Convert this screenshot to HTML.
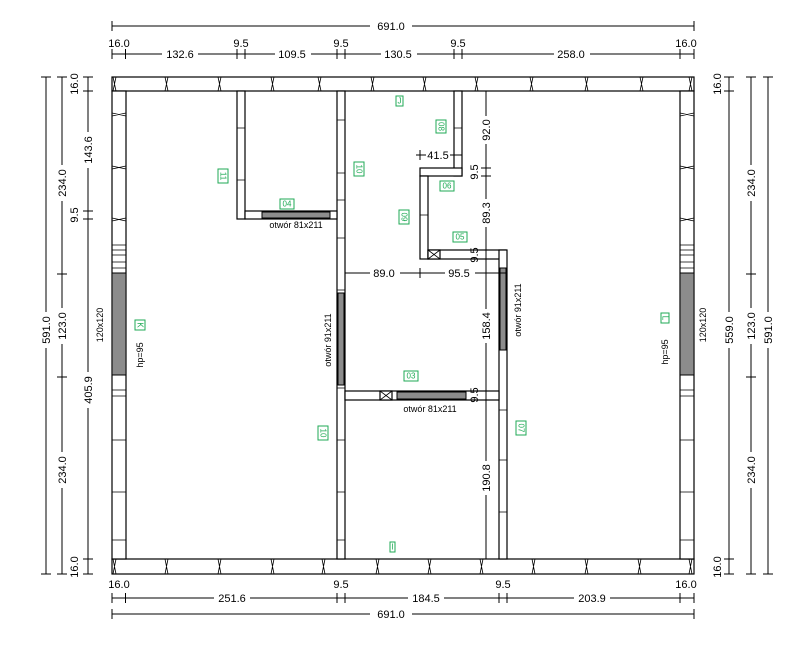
<!DOCTYPE html>
<html><head><meta charset="utf-8"><style>
html,body{margin:0;padding:0;background:#fff;}
svg{display:block;font-family:"Liberation Sans",sans-serif;}
.w{fill:#fff;stroke:#000;stroke-width:1.2;}
.g{fill:#8c8c8c;stroke:#000;stroke-width:1;}
.d{stroke:#000;stroke-width:1;fill:none;}
.t{font-size:11px;fill:#000;}
.s{font-size:9px;fill:#000;}
.lb{fill:#fff;stroke:#1faa55;stroke-width:1;}
.lt{font-size:8px;fill:#1faa55;text-anchor:middle;dominant-baseline:central;}
.m{stroke:#000;stroke-width:0.8;fill:none;}
</style></head><body>
<svg width="807" height="659" viewBox="0 0 807 659" xmlns="http://www.w3.org/2000/svg">
<rect class="w" x="112" y="77" width="582" height="14"/>
<rect class="w" x="112" y="559" width="582" height="15"/>
<rect class="w" x="112" y="91" width="14" height="468"/>
<rect class="w" x="680" y="91" width="14" height="468"/>
<rect class="g" x="112" y="273" width="14" height="102"/>
<rect class="g" x="680" y="273" width="14" height="102"/>
<rect class="w" x="337" y="91" width="8" height="468"/>
<rect class="w" x="237" y="91" width="8" height="128"/>
<rect class="w" x="245" y="211" width="92" height="8"/>
<rect class="g" x="262" y="212" width="68" height="6"/>
<rect class="w" x="454" y="91" width="8" height="85"/>
<rect class="w" x="420" y="168" width="42" height="8"/>
<rect class="w" x="420" y="176" width="8" height="83"/>
<rect class="w" x="428" y="250" width="78" height="9"/>
<rect class="w" x="428" y="250" width="12" height="9"/>
<path class="m" d="M428 250L440 259M440 250L428 259"/>
<rect class="w" x="499" y="250" width="8" height="309"/>
<rect class="g" x="500" y="268" width="6" height="82"/>
<rect class="g" x="338" y="293" width="6" height="92"/>
<rect class="w" x="345" y="391" width="154" height="9"/>
<rect class="w" x="380" y="391" width="12" height="9"/>
<path class="m" d="M380 391L392 400M392 391L380 400"/>
<rect class="g" x="397" y="392" width="69" height="7"/>
<g class="m">
<path d="M165 77l3 14m0-14l-3 14M218 77l3 14m0-14l-3 14M271 77l3 14m0-14l-3 14M318 77l3 14m0-14l-3 14M371 77l3 14m0-14l-3 14M423 77l3 14m0-14l-3 14M475 77l3 14m0-14l-3 14M530 77l3 14m0-14l-3 14M585 77l3 14m0-14l-3 14M640 77l3 14m0-14l-3 14M113 77l3 14m0-14l-3 14M689 77l3 14m0-14l-3 14"/>
<path d="M165 559l3 15m0-15l-3 15M218 559l3 15m0-15l-3 15M271 559l3 15m0-15l-3 15M322 559l3 15m0-15l-3 15M376 559l3 15m0-15l-3 15M428 559l3 15m0-15l-3 15M480 559l3 15m0-15l-3 15M532 559l3 15m0-15l-3 15M585 559l3 15m0-15l-3 15M638 559l3 15m0-15l-3 15M113 559l3 15m0-15l-3 15M689 559l3 15m0-15l-3 15"/>
<path d="M112 113l14 3m-14 0l14-3M112 166l14 3m-14 0l14-3M112 218l14 3m-14 0l14-3M112 245h14M112 250h14M112 255h14M112 262h14M112 268h14M112 390h14M112 396h14M112 440h14M112 492h14M112 540h14"/>
<path d="M680 113l14 3m-14 0l14-3M680 166l14 3m-14 0l14-3M680 218l14 3m-14 0l14-3M680 245h14M680 250h14M680 255h14M680 262h14M680 268h14M680 390h14M680 396h14M680 440h14M680 492h14M680 540h14"/>
<path d="M337 120h8M337 173h8M337 200h8M337 238h8M337 290h8M337 388h8M337 440h8M337 492h8M337 540h8M237 128h8M237 180h8M499 268h8M499 350h8M499 410h8M499 460h8M499 512h8M454 128h8M420 215h8"/>
</g>
<g class="d">
<path d="M112 26H694M112 54H694"/>
<path d="M112 21v10M694 21v10M112 49v10M125.5 49v10M237 49v10M245 49v10M337 49v10M345 49v10M454 49v10M462 49v10M680 49v10M694 49v10"/>
<path d="M112 598H694M112 614H694"/>
<path d="M112 593v10M125.5 593v10M337 593v10M345 593v10M499 593v10M507 593v10M680 593v10M694 593v10M112 609v10M694 609v10"/>
<path d="M46 77V574M62 77V574M88 77V574"/>
<path d="M41 77h10M41 574h10M57 77h10M57 274h10M57 377h10M57 574h10M83 77h10M83 91h10M83 211h10M83 219h10M83 559h10M83 574h10"/>
<path d="M729 77V574M751 77V574M768 77V574"/>
<path d="M724 77h10M724 91h10M724 559h10M724 574h10M746 77h10M746 274h10M746 377h10M746 574h10M763 77h10M763 574h10"/>
<path d="M486 91V559M481 91h10M481 168h10M481 176h10M481 250h10M481 259h10M481 391h10M481 400h10M481 559h10"/>
<path d="M345 273H507M345 268v10M420 268v10M499 268v10"/>
<path d="M416 155H462M420 150v10M454 150v10"/>
</g>
<g class="t" text-anchor="middle">
<rect x="370" y="19" width="42" height="13" fill="#fff"/><text x="391" y="30">691.0</text>
<rect x="370" y="607" width="42" height="13" fill="#fff"/><text x="391" y="618">691.0</text>
<text x="119" y="47">16.0</text><text x="241" y="47">9.5</text><text x="341" y="47">9.5</text><text x="458" y="47">9.5</text><text x="686" y="47">16.0</text>
<rect x="162" y="47" width="36" height="13" fill="#fff"/><text x="180" y="58">132.6</text>
<rect x="275" y="47" width="36" height="13" fill="#fff"/><text x="292" y="58">109.5</text>
<rect x="381" y="47" width="36" height="13" fill="#fff"/><text x="398" y="58">130.5</text>
<rect x="554" y="47" width="36" height="13" fill="#fff"/><text x="571" y="58">258.0</text>
<text x="119" y="588">16.0</text><text x="341" y="588">9.5</text><text x="503" y="588">9.5</text><text x="686" y="588">16.0</text>
<rect x="214" y="591" width="36" height="13" fill="#fff"/><text x="232" y="602">251.6</text>
<rect x="408" y="591" width="36" height="13" fill="#fff"/><text x="426" y="602">184.5</text>
<rect x="574" y="591" width="36" height="13" fill="#fff"/><text x="592" y="602">203.9</text>
<rect x="370" y="266" width="30" height="13" fill="#fff"/><text x="384" y="277">89.0</text>
<rect x="445" y="266" width="30" height="13" fill="#fff"/><text x="459" y="277">95.5</text>
<rect x="426" y="148" width="24" height="13" fill="#fff"/><text x="438" y="159">41.5</text>
</g>
<g class="t" text-anchor="middle">
<g transform="translate(50,330) rotate(-90)"><rect x="-18" y="-11" width="36" height="13" fill="#fff"/><text>591.0</text></g>
<g transform="translate(66,183) rotate(-90)"><rect x="-18" y="-11" width="36" height="13" fill="#fff"/><text>234.0</text></g>
<g transform="translate(66,326) rotate(-90)"><rect x="-18" y="-11" width="36" height="13" fill="#fff"/><text>123.0</text></g>
<g transform="translate(66,470) rotate(-90)"><rect x="-18" y="-11" width="36" height="13" fill="#fff"/><text>234.0</text></g>
<g transform="translate(78,84) rotate(-90)"><text>16.0</text></g>
<g transform="translate(78,567) rotate(-90)"><text>16.0</text></g>
<g transform="translate(78,215) rotate(-90)"><text>9.5</text></g>
<g transform="translate(92,150) rotate(-90)"><rect x="-18" y="-11" width="36" height="13" fill="#fff"/><text>143.6</text></g>
<g transform="translate(92,390) rotate(-90)"><rect x="-18" y="-11" width="36" height="13" fill="#fff"/><text>405.9</text></g>
<g transform="translate(721,84) rotate(-90)"><text>16.0</text></g>
<g transform="translate(721,567) rotate(-90)"><text>16.0</text></g>
<g transform="translate(733,330) rotate(-90)"><rect x="-18" y="-11" width="36" height="13" fill="#fff"/><text>559.0</text></g>
<g transform="translate(755,183) rotate(-90)"><rect x="-18" y="-11" width="36" height="13" fill="#fff"/><text>234.0</text></g>
<g transform="translate(755,326) rotate(-90)"><rect x="-18" y="-11" width="36" height="13" fill="#fff"/><text>123.0</text></g>
<g transform="translate(755,470) rotate(-90)"><rect x="-18" y="-11" width="36" height="13" fill="#fff"/><text>234.0</text></g>
<g transform="translate(772,330) rotate(-90)"><rect x="-18" y="-11" width="36" height="13" fill="#fff"/><text>591.0</text></g>
<g transform="translate(490,130) rotate(-90)"><rect x="-14" y="-11" width="28" height="13" fill="#fff"/><text>92.0</text></g>
<g transform="translate(478,172) rotate(-90)"><text>9.5</text></g>
<g transform="translate(490,213) rotate(-90)"><rect x="-14" y="-11" width="28" height="13" fill="#fff"/><text>89.3</text></g>
<g transform="translate(478,255) rotate(-90)"><text>9.5</text></g>
<g transform="translate(490,326) rotate(-90)"><rect x="-17" y="-11" width="34" height="13" fill="#fff"/><text>158.4</text></g>
<g transform="translate(478,395) rotate(-90)"><text>9.5</text></g>
<g transform="translate(490,478) rotate(-90)"><rect x="-17" y="-11" width="34" height="13" fill="#fff"/><text>190.8</text></g>
</g>
<g class="s" text-anchor="middle">
<text x="296" y="228">otwór 81x211</text>
<text x="430" y="412">otwór 81x211</text>
<text transform="translate(331,340) rotate(-90)">otwór 91x211</text>
<text transform="translate(521,310) rotate(-90)">otwór 91x211</text>
<text transform="translate(103,325) rotate(-90)">120x120</text>
<text transform="translate(706,325) rotate(-90)">120x120</text>
<text transform="translate(143,355) rotate(-90)">hp=95</text>
<text transform="translate(668,352) rotate(-90)">hp=95</text>
</g>
<g>
<rect class="lb" x="218" y="169" width="10" height="14"/><text class="lt" transform="translate(223,176) rotate(90)">11</text>
<rect class="lb" x="280" y="199" width="14" height="10"/><text class="lt" x="287" y="204">04</text>
<rect class="lb" x="354" y="162" width="10" height="14"/><text class="lt" transform="translate(359,169) rotate(90)">10</text>
<rect class="lb" x="396" y="96" width="7" height="10"/><text class="lt" x="399.5" y="101">J</text>
<rect class="lb" x="436" y="120" width="10" height="13"/><text class="lt" transform="translate(441,126.5) rotate(90)">08</text>
<rect class="lb" x="440" y="181" width="14" height="10"/><text class="lt" x="447" y="186">06</text>
<rect class="lb" x="399" y="210" width="10" height="14"/><text class="lt" transform="translate(404,217) rotate(90)">09</text>
<rect class="lb" x="453" y="232" width="14" height="10"/><text class="lt" x="460" y="237">05</text>
<rect class="lb" x="404" y="371" width="14" height="10"/><text class="lt" x="411" y="376">03</text>
<rect class="lb" x="318" y="426" width="10" height="14"/><text class="lt" transform="translate(323,433) rotate(90)">10</text>
<rect class="lb" x="516" y="421" width="10" height="14"/><text class="lt" transform="translate(521,428) rotate(90)">07</text>
<rect class="lb" x="390" y="542" width="5" height="10"/><text class="lt" x="392.5" y="547">I</text>
<rect class="lb" x="135" y="320" width="10" height="10"/><text class="lt" transform="translate(140,325) rotate(90)">K</text>
<rect class="lb" x="661" y="313" width="8" height="10"/><text class="lt" transform="translate(665,318) rotate(90)">L</text>
</g>
</svg>
</body></html>
